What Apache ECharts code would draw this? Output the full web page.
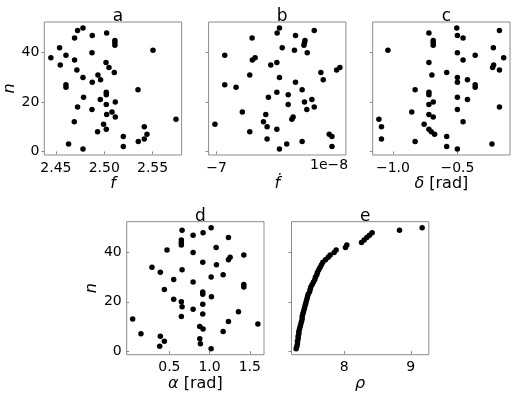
<!DOCTYPE html>
<html>
<head>
<meta charset="utf-8">
<script src="https://cdn.jsdelivr.net/npm/echarts@6/dist/echarts.min.js"></script>
<style>
  html, body { margin: 0; padding: 0; background: #fff; }
  #myCharts { width: 514px; height: 395px; }
</style>
</head>
<body>
<div id="myCharts"></div>
<script>
// n = 1..50, every panel has one point per n
var nValues = [1, 2, 3, 4, 5, 6, 7, 8, 9, 10, 11, 12, 13, 14, 15, 16, 17, 18, 19, 20,
  21, 22, 23, 24, 25, 26, 27, 28, 29, 30, 31, 32, 33, 34, 35, 36, 37, 38, 39, 40,
  41, 42, 43, 44, 45, 46, 47, 48, 49, 50];

// a: f
var fVals = [2.478, 2.5197, 2.4631, 2.5352, 2.5414, 2.5197, 2.5442, 2.4931, 2.5021, 2.5414,
  2.4993, 2.469, 2.5742, 2.5114, 2.5025, 2.508, 2.4873, 2.4724, 2.5021, 2.5114,
  2.4959, 2.4786, 2.5021, 2.5021, 2.5349, 2.4604, 2.4604, 2.4876, 2.4962, 2.478,
  2.4935, 2.5104, 2.4717, 2.5049, 2.4545, 2.5018, 2.4693, 2.4448, 2.4604, 2.4873,
  2.5504, 2.4538, 2.511, 2.511, 2.511, 2.4693, 2.4876, 2.5025, 2.4724, 2.478];

// b: f-dot, in units of 1e-8
var fdotVals = [-6.518, -6.115, -6.462, -6.344, -6.613, -6.115, -6.136, -6.746, -6.538, -6.613,
  -7.013, -6.641, -6.423, -6.413, -6.623, -6.803, -6.308, -6.251, -6.451, -6.326,
  -6.269, -6.603, -6.451, -6.538, -6.344, -6.851, -6.938, -6.395, -6.182, -6.518,
  -6.746, -6.2, -6.079, -6.054, -6.585, -6.538, -6.726, -6.705, -6.938, -6.305,
  -6.403, -6.497, -6.33, -6.326, -6.322, -6.728, -6.395, -6.536, -6.251, -6.518];

// c: delta [rad]
var deltaVals = [-0.5, -0.583, -0.232, -0.828, -1.089, -0.583, -0.677, -0.703, -0.721, -1.089,
  -0.758, -0.456, -1.109, -0.6875, -0.721, -0.854, -0.5, -0.174, -0.721, -0.6875,
  -0.422, -0.5, -0.721, -0.721, -0.828, -0.362, -0.362, -0.5, -0.422, -0.5,
  -0.698, -0.583, -0.174, -0.227, -0.219, -0.721, -0.456, -0.141, -0.362, -0.5,
  -1.039, -0.221, -0.6875, -0.6875, -0.6875, -0.456, -0.5, -0.721, -0.174, -0.505];

// d: alpha [rad]
var alphaVals = [1.019, 0.38, 0.886, 0.438, 0.878, 0.388, 0.147, 1.168, 0.919, 0.878,
  1.6, 1.234, 0.044, 0.649, 0.915, 1.359, 0.795, 0.658, 0.915, 0.649,
  0.554, 1.023, 0.915, 0.915, 0.438, 1.425, 1.425, 0.795, 0.554, 1.019,
  1.168, 0.388, 0.658, 0.284, 1.085, 0.915, 1.234, 1.255, 1.425, 0.795,
  0.471, 1.081, 0.649, 0.649, 0.649, 1.234, 0.795, 0.919, 0.658, 1.019];

// e: rho
var rhoVals = [7.28, 7.29, 7.3, 7.3, 7.31, 7.31, 7.32, 7.32, 7.33, 7.34,
  7.35, 7.36, 7.37, 7.37, 7.38, 7.39, 7.4, 7.41, 7.42, 7.43,
  7.44, 7.45, 7.46, 7.48, 7.49, 7.5, 7.52, 7.54, 7.56, 7.57,
  7.59, 7.6, 7.62, 7.64, 7.66, 7.68, 7.72, 7.76, 7.79, 7.85,
  7.88, 8.02, 8.04, 8.26, 8.3, 8.34, 8.38, 8.42, 8.83, 9.17];

var nTicks = [0, 20, 40];
var fTicks = [2.45, 2.5, 2.55];
var fdotTicks = [-7];
var deltaTicks = [-1.0, -0.5];
var alphaTicks = [0.5, 1.0, 1.5];
var rhoTicks = [8, 9];

var font = "DejaVu Sans";
var frameColor = "#8c8c8c";
var panelW = 137.3;
var panelH = 133;

var panels = [
  { title: "a", left: 44.3, top: 22, xs: fVals, min: 2.438, max: 2.58, ticks: fTicks, digits: 2, xName: "{it|f}", yLabels: true },
  { title: "b", left: 208.6, top: 22, xs: fdotVals, min: -7.062, max: -6.008, ticks: fdotTicks, digits: 0, xName: "{it|ḟ}", yLabels: false },
  { title: "c", left: 372.7, top: 22, xs: deltaVals, min: -1.157, max: -0.092, ticks: deltaTicks, digits: 1, xName: "{it|δ} [rad]", yLabels: false },
  { title: "d", left: 126.7, top: 221.7, xs: alphaVals, min: -0.03, max: 1.676, ticks: alphaTicks, digits: 1, xName: "{it|α} [rad]", yLabels: true },
  { title: "e", left: 291.5, top: 221.7, xs: rhoVals, min: 7.21, max: 9.27, ticks: rhoTicks, digits: 0, xName: "{it|ρ}", yLabels: false }
];

function label(v, digits) {
  return v.toFixed(digits).replace("-", "\u2212");
}

var nameStyle = {
  fontFamily: font, fontSize: 16, color: "#000",
  rich: { it: { fontFamily: font, fontSize: 16, fontStyle: "italic", color: "#000" } }
};

var grid = [], xAxis = [], yAxis = [], series = [], title = [];

panels.forEach(function(p, i) {
  grid.push({
    left: p.left, top: p.top, width: panelW, height: panelH,
    show: true, borderColor: frameColor, borderWidth: 1, backgroundColor: "transparent"
  });
  title.push({
    text: p.title,
    left: p.left + panelW / 2,
    top: p.top - 19,
    textAlign: "center",
    textStyle: { fontFamily: font, fontSize: 17, fontWeight: "normal", color: "#000" }
  });
  xAxis.push({
    type: "value", gridIndex: i, min: p.min, max: p.max,
    splitLine: { show: false },
    axisLine: { show: false },
    axisTick: { show: true, length: 3, customValues: p.ticks, lineStyle: { color: frameColor } },
    axisLabel: {
      show: true, customValues: p.ticks, margin: 6,
      fontFamily: font, fontSize: 14, color: "#000",
      formatter: (function(d) { return function(v) { return label(v, d); }; })(p.digits)
    },
    name: p.xName, nameLocation: "middle", nameGap: 19,
    nameTextStyle: nameStyle
  });
  yAxis.push({
    type: "value", gridIndex: i, min: -1.45, max: 52.45,
    splitLine: { show: false },
    axisLine: { show: false },
    axisTick: { show: true, length: 3, customValues: nTicks, lineStyle: { color: frameColor } },
    axisLabel: {
      show: p.yLabels, customValues: nTicks, margin: 5,
      fontFamily: font, fontSize: 14, color: "#000"
    },
    name: p.yLabels ? "{it|n}" : "", nameLocation: "middle", nameGap: 25,
    nameTextStyle: nameStyle
  });
  series.push({
    type: "scatter", xAxisIndex: i, yAxisIndex: i,
    symbolSize: 5.5,
    itemStyle: { color: "#000", opacity: 1 },
    data: p.xs.map(function(x, k) { return [x, nValues[k]]; })
  });
});

var myChart = echarts.init(document.getElementById("myCharts"), null, { renderer: "canvas" });
myChart.setOption({
  animation: false,
  title: title,
  grid: grid,
  xAxis: xAxis,
  yAxis: yAxis,
  series: series,
  graphic: [
    {
      // offset text of the f-dot axis
      type: "text", left: 310, top: 158,
      style: { text: "1e\u22128", font: "14px " + font, fill: "#000" }
    }
  ]
});
</script>
</body>
</html>
